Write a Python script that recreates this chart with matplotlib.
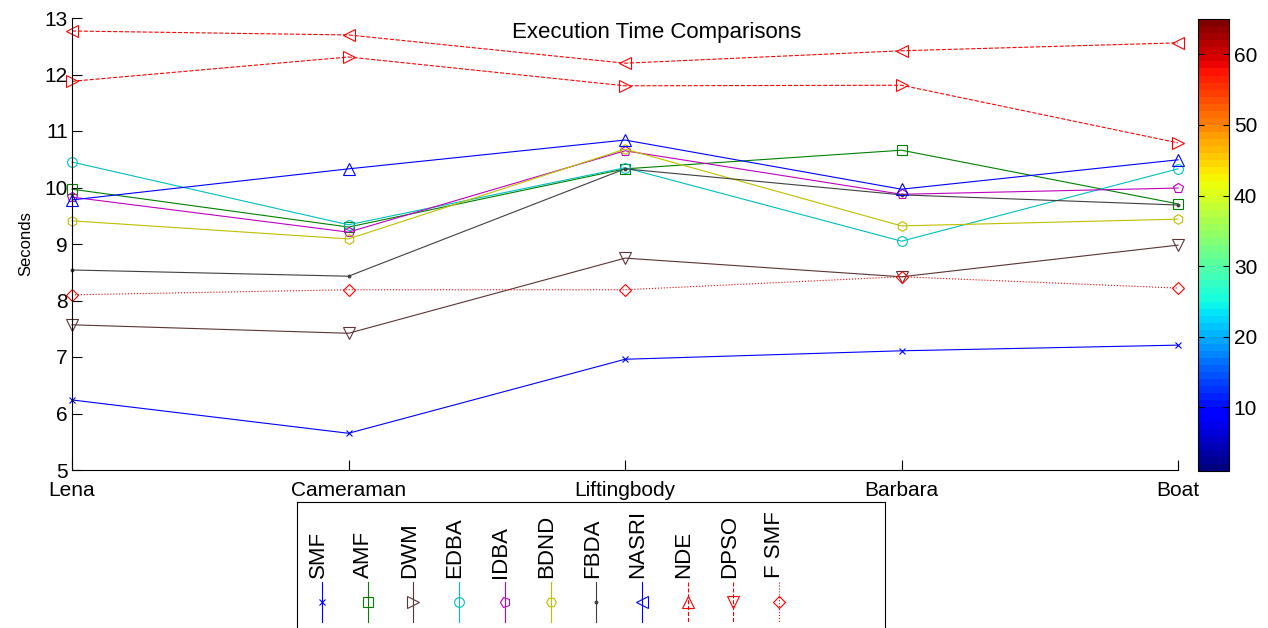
import numpy as np
import matplotlib
matplotlib.use('Agg')
import matplotlib.pyplot as plt
from matplotlib.markers import MarkerStyle
from matplotlib.transforms import Affine2D
from matplotlib.colors import Normalize, ListedColormap
from matplotlib.cm import ScalarMappable

plt.rcParams['font.family'] = ['Liberation Sans', 'DejaVu Sans']

# data
images = ['Lena', 'Cameraman', 'Liftingbody', 'Barbara', 'Boat']
methods = ['SMF', 'AMF', 'DWM', 'EDBA', 'IDBA', 'BDND', 'FBDA', 'NASRI', 'NDE', 'DPSO', 'F SMF']
smf = [6.24, 5.65, 6.96, 7.11, 7.21]
amf = [9.97, 9.30, 10.33, 10.66, 9.71]
dwm = [7.57, 7.42, 8.75, 8.42, 8.98]
edba = [10.45, 9.34, 10.35, 9.05, 10.33]
idba = [9.83, 9.21, 10.65, 9.88, 9.99]
bdnd = [9.41, 9.09, 10.68, 9.32, 9.44]
fbda = [8.54, 8.43, 10.33, 9.87, 9.69]
nasri = [9.78, 10.33, 10.84, 9.97, 10.49]
nde = [11.88, 12.31, 11.80, 11.81, 10.79]
dpso = [12.77, 12.70, 12.20, 12.42, 12.56]
fsmf = [8.10, 8.19, 8.19, 8.42, 8.22]
series = [smf, amf, dwm, edba, idba, bdnd, fbda, nasri, nde, dpso, fsmf]

# styles
colors = ['#0000ff', '#008000', '#5a3535', '#00bfbf', '#bf00bf', '#bfbf00',
          '#404040', '#0000ff', '#ff0000', '#ff0000', '#ff0000']
markers = ['x', 's', 'v', 'o', 'p', 'h', '.', '^', '>', '<', 'D']
styles = ['-', '-', '-', '-', '-', '-', '-', '-', '--', '--', ':']
msizes = [5, 7, 8, 7, 7, 7, 4, 8, 8, 8, 6]

W, H = 1268, 628
fig = plt.figure(figsize=(W / 100, H / 100), dpi=100)
ax = fig.add_axes([72 / W, 1 - 470 / H, (1178 - 72) / W, (470 - 18) / H])

x = np.arange(len(images))
for vals, c, m, ls, ms in zip(series, colors, markers, styles, msizes):
    ax.plot(x, vals, color=c, marker=m, linestyle=ls, lw=0.8, ms=ms,
            mfc=c if m == '.' else 'none', mec=c, mew=0.8, clip_on=False)

ax.set_xlim(0, 4)
ax.set_ylim(5, 13)
ax.set_xticks(x)
ax.set_xticklabels(images, fontsize=14)
ax.set_yticks(range(5, 14))
ax.tick_params(direction='in', length=7, labelsize=15, pad=3)
ax.tick_params(axis='x', pad=8)
for s in ['top', 'right']:
    ax.spines[s].set_visible(False)
for s in ['left', 'bottom']:
    ax.spines[s].set_linewidth(0.8)
ax.set_ylabel('Seconds', fontsize=12, labelpad=8)
ax.text(0.529, 0.969, 'Execution Time Comparisons', transform=ax.transAxes,
        ha='center', va='center', fontsize=16)

# colorbar
cax = fig.add_axes([1198 / W, 1 - 471 / H, 31 / W, (471 - 19) / H])
jet64 = ListedColormap(plt.get_cmap('jet')(np.linspace(0, 1, 64)))
sm = ScalarMappable(norm=Normalize(1, 65), cmap=jet64)
cb = fig.colorbar(sm, cax=cax, ticks=[10, 20, 30, 40, 50, 60])
cb.outline.set_linewidth(0.8)
cax.tick_params(direction='in', length=4, labelsize=15, left=True, right=True)

# legend, rotated as in the reference
lax = fig.add_axes([297 / W, -0.05, (885 - 297) / W, 0.05 + 1 - 502 / H])
lax.set_xlim(0, 588)
lax.set_ylim(0, 126 + 0.05 * H)
lax.invert_yaxis()
lax.set_xticks([])
lax.set_yticks([])
for s in lax.spines.values():
    s.set_linewidth(0.8)
rot = Affine2D().rotate_deg(90)
for i, name in enumerate(methods):
    lx = 25 + i * 45.7
    lax.text(lx - 4, 76, name, rotation=90, ha='center', va='bottom', fontsize=16)
    lax.plot([lx, lx], [80, 120], color=colors[i], lw=0.8, linestyle=styles[i])
    lax.plot([lx], [100], color=colors[i], linestyle='none', ms=msizes[i],
             marker=MarkerStyle(markers[i], transform=rot),
             mfc=colors[i] if markers[i] == '.' else 'none', mec=colors[i], mew=0.8)

fig.savefig('out.png', dpi=100)
